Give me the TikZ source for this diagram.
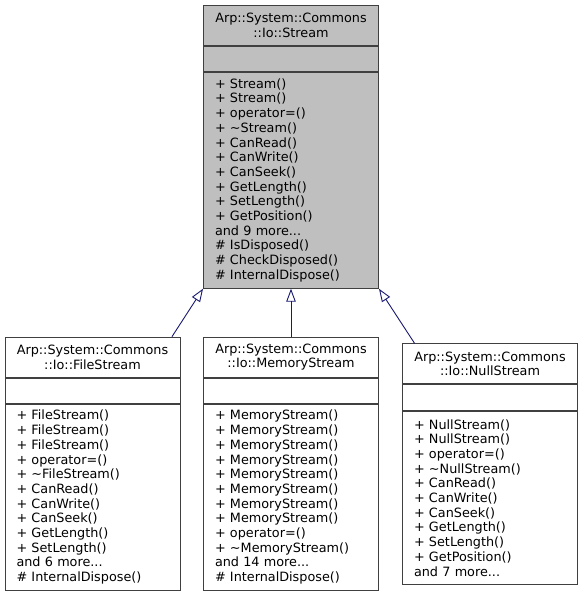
\documentclass[tikz,border=0pt]{standalone}
\usepackage{fontspec}
\setmainfont{DejaVu Sans}
\usetikzlibrary{positioning}
\usetikzlibrary{arrows.meta}
\definecolor{boxline}{HTML}{404040}
\definecolor{parentfill}{HTML}{BFBFBF}
\definecolor{edgeblue}{HTML}{191970}
\tikzset{
    classbox/.style = {rectangle, draw=boxline, line width=0.9pt, fill=white, minimum width=175pt, inner xsep=11.5pt, text width=152pt, font=\fontsize{12.8}{14.7}\selectfont},
    classtitle/.style = {classbox, align=center, minimum height=40pt},
    classattr/.style = {classbox, minimum height=25pt},
    classops/.style = {classbox, align=left},
    parent/.style = {fill=parentfill},
    edgeinh/.style = {-{Triangle[open,length=13pt,width=9.5pt]}, draw=edgeblue, line width=0.9pt}, % inheritance
}
\begin{document}
\begin{tikzpicture}[x=1pt,y=-1pt]
\useasboundingbox (0,0) rectangle (583,595);
% base class
\node[classtitle,parent,anchor=north] at (291, 5) (streamT) {Arp::System::Commons\\::Io::Stream};
\node[classattr,parent,below=0pt of streamT] (streamA) {};
\node[classops,parent,minimum height=216pt,below=0pt of streamA] (streamO) {+ Stream()\\+ Stream()\\+ operator=()\\+ \textasciitilde Stream()\\+ CanRead()\\+ CanWrite()\\+ CanSeek()\\+ GetLength()\\+ SetLength()\\+ GetPosition()\\and 9 more...\\\# IsDisposed()\\\# CheckDisposed()\\\# InternalDispose()};
%
\node[classtitle,anchor=north] at (92.5, 336.7) (fileT) {Arp::System::Commons\\::Io::FileStream};
\node[classattr,below=0pt of fileT] (fileA) {};
\node[classops,minimum height=186.6pt,below=0pt of fileA] (fileO) {+ FileStream()\\+ FileStream()\\+ FileStream()\\+ operator=()\\+ \textasciitilde FileStream()\\+ CanRead()\\+ CanWrite()\\+ CanSeek()\\+ GetLength()\\+ SetLength()\\and 6 more...\\\# InternalDispose()};
%
\node[classtitle,anchor=north] at (291, 336.7) (memT) {Arp::System::Commons\\::Io::MemoryStream};
\node[classattr,below=0pt of memT] (memA) {};
\node[classops,minimum height=186.6pt,below=0pt of memA] (memO) {+ MemoryStream()\\+ MemoryStream()\\+ MemoryStream()\\+ MemoryStream()\\+ MemoryStream()\\+ MemoryStream()\\+ MemoryStream()\\+ MemoryStream()\\+ operator=()\\+ \textasciitilde MemoryStream()\\and 14 more...\\\# InternalDispose()};
%
\node[classtitle,anchor=north] at (490, 343.3) (nullT) {Arp::System::Commons\\::Io::NullStream};
\node[classattr,minimum height=26pt,below=0pt of nullT] (nullA) {};
\node[classops,minimum height=172.4pt,below=0pt of nullA] (nullO) {+ NullStream()\\+ NullStream()\\+ operator=()\\+ \textasciitilde NullStream()\\+ CanRead()\\+ CanWrite()\\+ CanSeek()\\+ GetLength()\\+ SetLength()\\+ GetPosition()\\and 7 more...};
%
\draw[edgeinh] ([xshift=-8.5pt]fileT.north east) -- (streamO.south west);
\draw[edgeinh] (memT.north) -- (streamO.south);
\draw[edgeinh] ([xshift=12.5pt]nullT.north west) -- (streamO.south east);

\end{tikzpicture}
\end{document}
